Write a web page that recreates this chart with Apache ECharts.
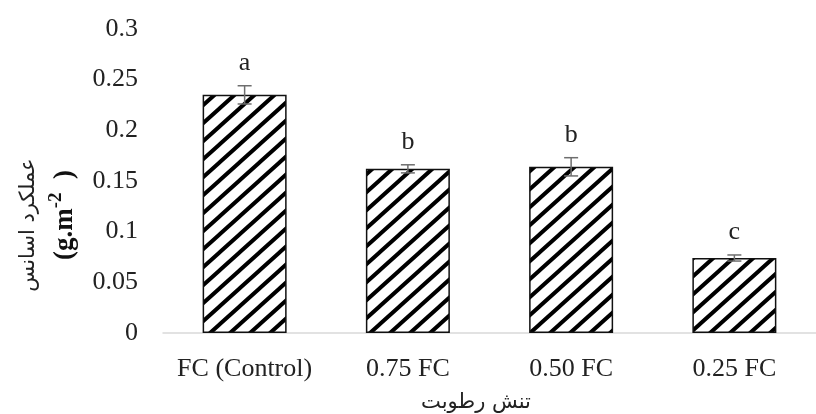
<!DOCTYPE html>
<html>
<head>
<meta charset="utf-8">
<script src="https://cdn.jsdelivr.net/npm/echarts@6/dist/echarts.min.js"></script>
<style>
  html, body { margin: 0; padding: 0; background: #fff; }
  #chart { width: 816px; height: 414px; }
</style>
</head>
<body>
<div id="chart"></div>
<script>
// data
const categories = ['FC (Control)', '0.75 FC', '0.50 FC', '0.25 FC'];
const yieldValues = [0.235, 0.162, 0.164, 0.074];
const errors = [0.009, 0.004, 0.009, 0.003];
const letters = ['a', 'b', 'b', 'c'];
const yTicks = [0, 0.05, 0.1, 0.15, 0.2, 0.25, 0.3];

const serif = '"Liberation Serif", "DejaVu Serif", serif';

// hatch pattern "/"
function makeHatch() {
  const w = 20, h = 18;
  const c = document.createElement('canvas');
  c.width = w; c.height = h;
  const ctx = c.getContext('2d');
  ctx.fillStyle = '#fff';
  ctx.fillRect(0, 0, w, h);
  ctx.strokeStyle = '#000';
  ctx.lineWidth = 4;
  ctx.beginPath();
  for (let k = -1; k <= 1; k++) {
    ctx.moveTo(k * w - w * 0.1, h * 1.1);
    ctx.lineTo(k * w + w * 1.1, -h * 0.1);
  }
  ctx.stroke();
  return c;
}

const chart = echarts.init(document.getElementById('chart'));

chart.setOption({
  animation: false,
  backgroundColor: '#fff',
  grid: { left: 163, right: -12, top: 29, bottom: 81 },
  xAxis: {
    type: 'category',
    data: categories,
    axisLine: { lineStyle: { color: '#d9d9d9', width: 1.5 } },
    axisTick: { length: 9, lineStyle: { color: '#d9d9d9', width: 1.5 } },
    axisLabel: { interval: 0, color: '#222', fontFamily: serif, fontSize: 26, margin: 23 }
  },
  yAxis: {
    type: 'value',
    min: yTicks[0],
    max: yTicks[yTicks.length - 1],
    interval: 0.05,
    axisLine: { show: false },
    axisTick: { show: false },
    splitLine: { show: false },
    axisLabel: { color: '#222', fontFamily: serif, fontSize: 26, margin: 25 }
  },
  series: [
    {
      type: 'bar',
      data: yieldValues,
      barWidth: 84,
      itemStyle: {
        color: { image: makeHatch(), repeat: 'repeat' },
        borderColor: '#111',
        borderWidth: 1.5
      }
    },
    {
      type: 'custom',
      data: yieldValues.map((v, i) => [i, v, errors[i]]),
      z: 10,
      renderItem: function (params, api) {
        const i = api.value(0);
        const v = api.value(1);
        const e = api.value(2);
        const top = api.coord([i, v + e]);
        const bot = api.coord([i, v - e]);
        const x = top[0];
        const hw = 7;
        const st = { stroke: '#6e6e6e', lineWidth: 1.5 };
        return {
          type: 'group',
          children: [
            { type: 'line', shape: { x1: x, y1: top[1], x2: x, y2: bot[1] }, style: st },
            { type: 'line', shape: { x1: x - hw, y1: top[1], x2: x + hw, y2: top[1] }, style: st },
            { type: 'line', shape: { x1: x - hw, y1: bot[1], x2: x + hw, y2: bot[1] }, style: st },
            {
              type: 'text',
              style: {
                text: letters[i], x: x, y: top[1] - 10,
                align: 'center', verticalAlign: 'bottom',
                fill: '#222', font: '26px ' + serif
              }
            }
          ]
        };
      }
    }
  ],
  graphic: [
    {
      type: 'text',
      x: 29, y: 225, rotation: Math.PI / 2,
      style: {
        text: 'عملکرد اسانس',
        align: 'center', verticalAlign: 'middle',
        fill: '#222', font: '21px "DejaVu Sans", sans-serif'
      }
    },
    {
      type: 'text',
      x: 65, y: 215, rotation: Math.PI / 2,
      style: {
        text: '{u|(g.m}{s|-2}{u|  )}',
        align: 'center', verticalAlign: 'middle',
        fill: '#111',
        rich: {
          u: { fontFamily: serif, fontWeight: 'bold', fontSize: 27, lineHeight: 36, fill: '#111' },
          s: { fontFamily: serif, fontWeight: 'bold', fontSize: 19, lineHeight: 36, verticalAlign: 'top', fill: '#111' }
        }
      }
    },
    {
      type: 'text',
      x: 476, y: 403,
      style: {
        text: 'تنش رطوبت',
        align: 'center', verticalAlign: 'middle',
        fill: '#222', font: '21px "DejaVu Sans", sans-serif'
      }
    }
  ]
});
</script>
</body>
</html>
